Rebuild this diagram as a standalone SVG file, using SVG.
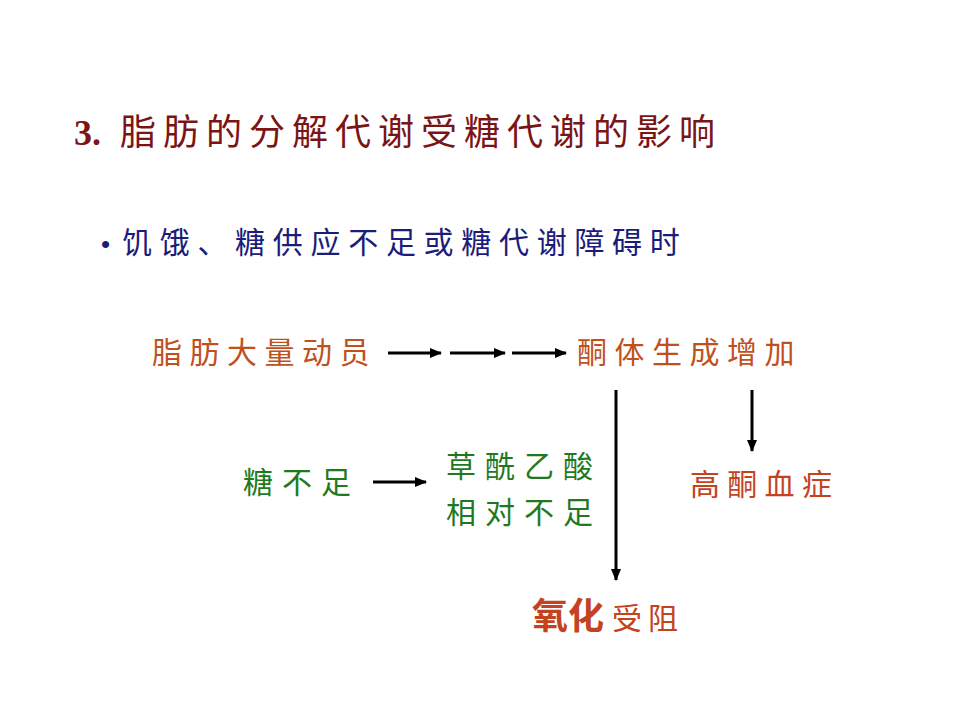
<svg xmlns="http://www.w3.org/2000/svg" width="960" height="720" viewBox="0 0 960 720">
<defs>
<marker id="ah" markerWidth="12" markerHeight="10" refX="11" refY="5" orient="auto" markerUnits="userSpaceOnUse">
<path d="M0,0 L12,5 L0,10 Z" fill="#000"/>
</marker>
<style>
text{font-family:"Noto Sans CJK SC","Noto Sans",sans-serif;}
.title{font-size:36px;fill:#7b1515;letter-spacing:7px;}
.bul{font-size:30px;fill:#1c1c7a;letter-spacing:7.7px;}
.org{font-size:30px;fill:#c0501c;letter-spacing:7.5px;}
.grn{font-size:30px;fill:#1f7a1f;letter-spacing:9px;}
.red{font-size:30px;fill:#c4421e;letter-spacing:7.3px;}
.ln{stroke:#000;stroke-width:3;fill:none;}
</style>
</defs>
<rect width="960" height="720" fill="#fff"/>
<g id="title"><text x="74" y="145" fill="#7b1515"><tspan font-family="Liberation Serif,serif" font-weight="bold" font-size="36">3.</tspan><tspan x="120" class="title">脂肪的分解代谢受糖代谢的影响</tspan></text></g>
<g id="bullet"><text x="101" y="253" class="bul"><tspan font-family="Liberation Sans,sans-serif" font-size="26" letter-spacing="0">•</tspan><tspan x="122">饥饿、糖供应不足或糖代谢障碍时</tspan></text></g>
<g id="n1"><text x="152" y="363" class="org">脂肪大量动员</text></g>
<g id="n2"><text x="577" y="363" class="org">酮体生成增加</text></g>
<g id="n3"><text x="243" y="493" class="grn">糖不足</text></g>
<g id="n4"><text x="446" y="477" class="grn">草酰乙酸</text><text x="446" y="523" class="grn">相对不足</text></g>
<g id="n5"><text x="690" y="495" class="red">高酮血症</text></g>
<g id="n6"><text x="532" y="629" font-size="36" font-weight="bold" fill="#c4421e">氧化<tspan x="612" font-size="30" font-weight="normal" letter-spacing="6">受阻</tspan></text></g>
<g id="connectors">
<line class="ln" x1="388" y1="353" x2="441" y2="353" marker-end="url(#ah)"/>
<line class="ln" x1="450" y1="353" x2="505" y2="353" marker-end="url(#ah)"/>
<line class="ln" x1="512" y1="353" x2="566" y2="353" marker-end="url(#ah)"/>
<line class="ln" x1="616" y1="390" x2="616" y2="580" marker-end="url(#ah)"/>
<line class="ln" x1="752" y1="390" x2="752" y2="451" marker-end="url(#ah)"/>
<line class="ln" x1="373" y1="482" x2="426" y2="482" marker-end="url(#ah)"/>
</g>
</svg>
